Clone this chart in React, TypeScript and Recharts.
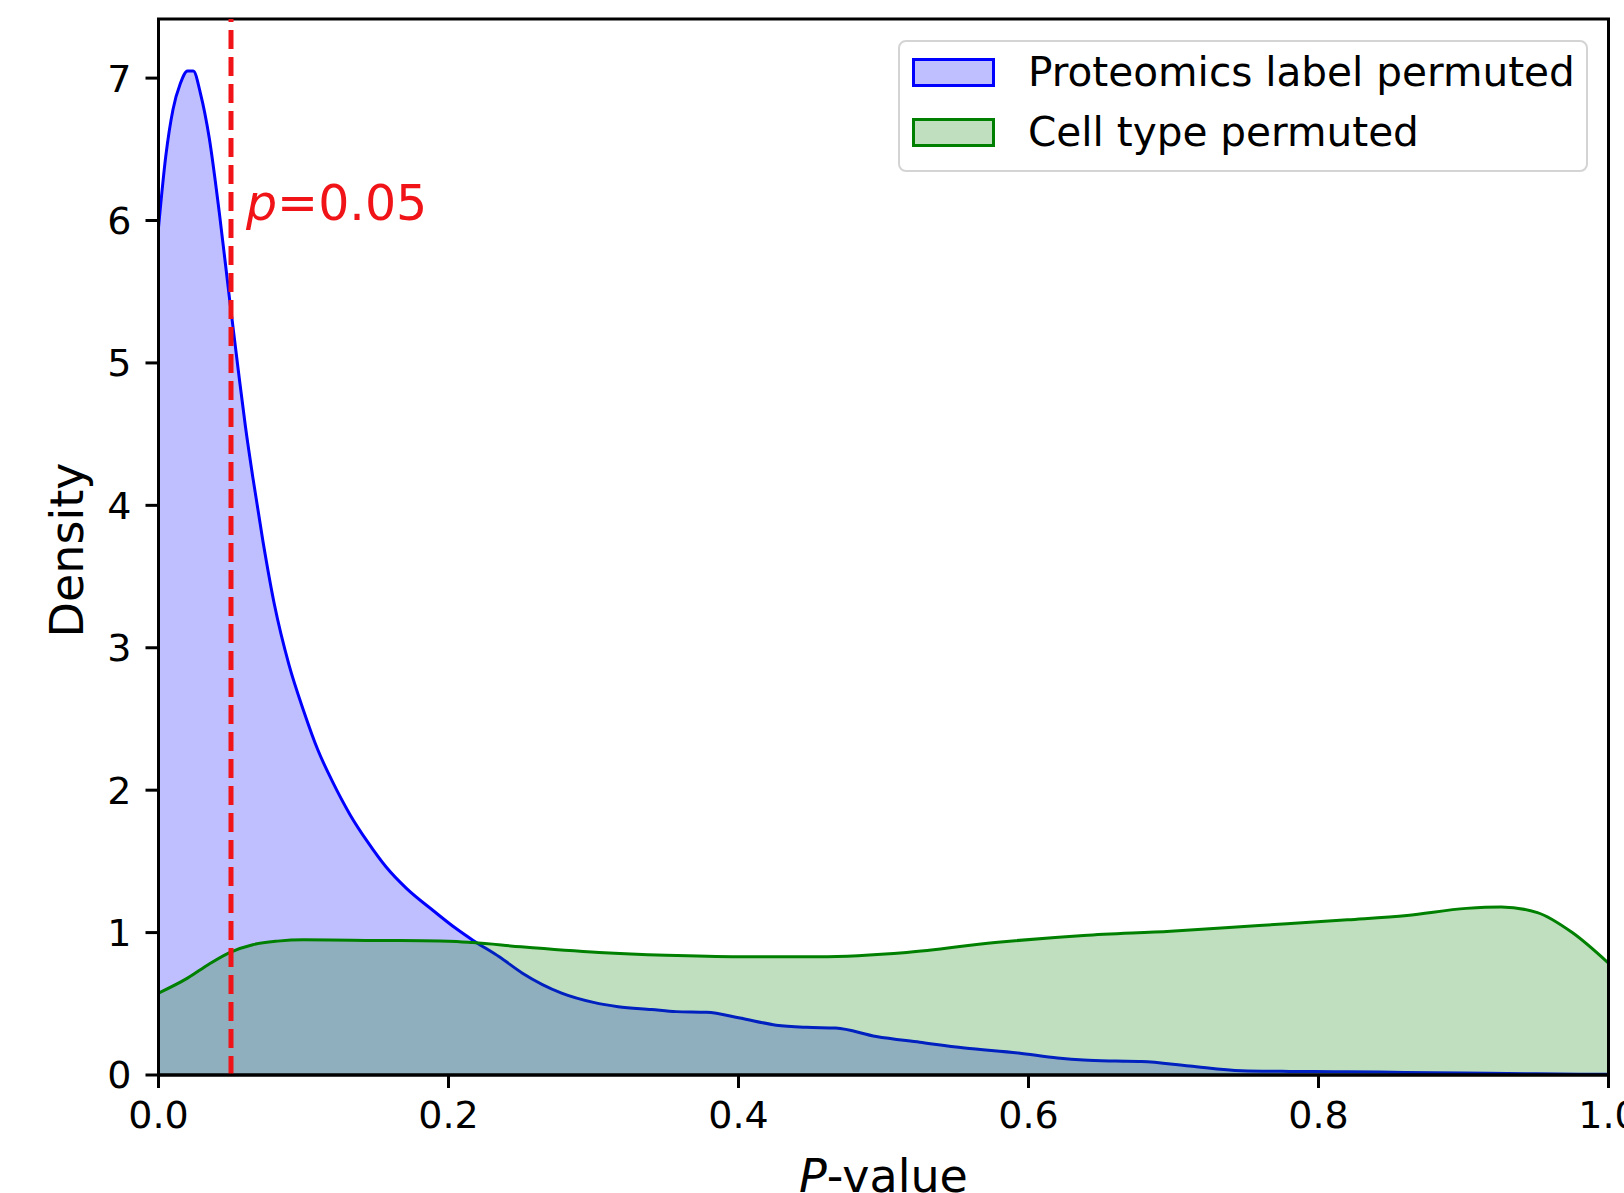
import React from 'react';
import {
  ComposedChart,
  Area,
  XAxis,
  YAxis,
  ReferenceLine,
  ReferenceArea,
  Legend,
} from 'recharts';

// ---- data ----
const blueX = [
  0, 0.005, 0.01, 0.015, 0.02, 0.024, 0.029, 0.035, 0.042, 0.049, 0.055, 0.06, 0.065,
  0.072, 0.08, 0.09, 0.1, 0.11, 0.12, 0.132, 0.144, 0.157, 0.171, 0.19, 0.205, 0.217,
  0.235, 0.251, 0.278, 0.3, 0.317, 0.34, 0.357, 0.378, 0.401, 0.426, 0.447, 0.467,
  0.495, 0.525, 0.556, 0.593, 0.62, 0.638, 0.66, 0.678, 0.711, 0.747, 0.78, 0.82,
  0.86, 0.9, 0.95, 1.0,
];
const blueY = [
  5.95, 6.45, 6.78, 6.96, 7.05, 7.05, 6.89, 6.58, 6.05, 5.45, 4.95, 4.55, 4.2, 3.75,
  3.3, 2.88, 2.56, 2.28, 2.06, 1.83, 1.64, 1.46, 1.31, 1.15, 1.03, 0.945, 0.83, 0.715,
  0.575, 0.51, 0.48, 0.46, 0.445, 0.44, 0.4, 0.35, 0.335, 0.33, 0.27, 0.23, 0.19,
  0.155, 0.12, 0.105, 0.098, 0.095, 0.063, 0.03, 0.025, 0.023, 0.018, 0.014, 0.008,
  0.005,
];
const greenX = [
  0, 0.02, 0.035, 0.049, 0.065, 0.082, 0.1, 0.15, 0.2, 0.217, 0.25, 0.304, 0.35,
  0.401, 0.455, 0.516, 0.577, 0.638, 0.698, 0.759, 0.82, 0.861, 0.902, 0.926, 0.951,
  0.975, 1.0,
];
const greenY = [
  0.575, 0.68, 0.78, 0.86, 0.915, 0.94, 0.95, 0.945, 0.94, 0.93, 0.9, 0.86, 0.84,
  0.83, 0.83, 0.86, 0.93, 0.98, 1.01, 1.05, 1.09, 1.12, 1.17, 1.18, 1.14, 1.0, 0.785,
];
const xTicks = [0, 0.2, 0.4, 0.6, 0.8, 1.0];
const yTicks = [0, 1, 2, 3, 4, 5, 6, 7];
const yMax = 7.415;
const thresholdP = 0.05;
const seriesOrder = ['blue', 'green'];
const seriesNames: Record<string, string> = {
  blue: 'Proteomics label permuted',
  green: 'Cell type permuted',
};

// ---- styles ----
const FONT = '"DejaVu Sans", sans-serif';
const seriesStyle: Record<string, { stroke: string; fill: string }> = {
  blue: { stroke: '#0000ff', fill: '#0000ff' },
  green: { stroke: '#008000', fill: '#008000' },
};
const RED = '#f01418';

const W = 1624;
const H = 1193;
const PLOT_LEFT = 158.5;
const PLOT_RIGHT = 1608.5;
const PLOT_TOP = 19;
const PLOT_BOTTOM = 1075;

function buildData() {
  const xs = Array.from(new Set([...blueX, ...greenX])).sort((a, b) => a - b);
  return xs.map((x) => {
    const bi = blueX.indexOf(x);
    const gi = greenX.indexOf(x);
    return {
      x,
      blue: bi >= 0 ? blueY[bi] : null,
      green: gi >= 0 ? greenY[gi] : null,
    };
  });
}

const data = buildData();

const LegendBox = (props: any) => {
  const payload = [...(props.payload || [])].sort(
    (a: any, b: any) => seriesOrder.indexOf(a.dataKey) - seriesOrder.indexOf(b.dataKey)
  );
  return (
    <div
      style={{
        width: 690,
        height: 132,
        boxSizing: 'border-box',
        border: '2px solid #d4d4d4',
        borderRadius: 8,
        background: 'rgba(255,255,255,0.8)',
        position: 'relative',
        fontFamily: FONT,
        fontSize: 40.6,
        color: '#000',
      }}
    >
      {payload.map((entry: any, i: number) => {
        const st = seriesStyle[entry.dataKey] || { stroke: '#000', fill: '#000' };
        return (
          <div
            key={i}
            style={{
              position: 'absolute',
              left: 12,
              top: 16 + i * 60,
              height: 29,
              display: 'flex',
              alignItems: 'center',
              whiteSpace: 'nowrap',
            }}
          >
            <div
              style={{
                width: 83,
                height: 29,
                boxSizing: 'border-box',
                border: `3px solid ${st.stroke}`,
                background: st.fill,
                position: 'relative',
              }}
            >
              <div
                style={{
                  position: 'absolute',
                  inset: 0,
                  background: '#fff',
                  opacity: 0.75,
                }}
              />
            </div>
            <span style={{ marginLeft: 33, lineHeight: '29px' }}>{entry.value}</span>
          </div>
        );
      })}
    </div>
  );
};

const tickStyle = { fill: '#000', fontSize: 38, fontFamily: FONT };

export default function App() {
  return (
    <div
      style={{
        position: 'absolute',
        left: 0,
        top: 0,
        width: W,
        height: H,
        overflow: 'hidden',
        background: '#fff',
      }}
    >
      <ComposedChart
        width={W}
        height={H}
        data={data}
        margin={{ top: PLOT_TOP, right: W - PLOT_RIGHT, bottom: 0, left: 0 }}
      >
        <XAxis
          dataKey="x"
          type="number"
          domain={[0, 1]}
          ticks={xTicks}
          interval={0}
          allowDataOverflow
          height={H - PLOT_BOTTOM}
          tickFormatter={(v: number) => v.toFixed(1)}
          tick={tickStyle}
          tickSize={13}
          tickMargin={13}
          axisLine={{ stroke: '#000', strokeWidth: 3 }}
          tickLine={{ stroke: '#000', strokeWidth: 3 }}
          label={{
            content: () => (
              <text
                x={(PLOT_LEFT + PLOT_RIGHT) / 2}
                y={1192}
                textAnchor="middle"
                fontFamily={FONT}
                fontSize={46}
                fill="#000"
              >
                <tspan fontStyle="italic">P</tspan>
                <tspan>-value</tspan>
              </text>
            ),
          }}
        />
        <YAxis
          type="number"
          domain={[0, yMax]}
          ticks={yTicks}
          interval={0}
          allowDataOverflow
          width={PLOT_LEFT}
          tick={tickStyle}
          tickSize={13}
          tickMargin={14}
          axisLine={{ stroke: '#000', strokeWidth: 3 }}
          tickLine={{ stroke: '#000', strokeWidth: 3 }}
          label={{
            content: () => {
              const cx = 83;
              const cy = (PLOT_TOP + PLOT_BOTTOM) / 2 + 3;
              return (
                <text
                  x={cx}
                  y={cy}
                  transform={`rotate(-90, ${cx}, ${cy})`}
                  textAnchor="middle"
                  fontFamily={FONT}
                  fontSize={46}
                  fill="#000"
                >
                  Density
                </text>
              );
            },
          }}
        />
        <Area
          dataKey="blue"
          name={seriesNames.blue}
          type="monotone"
          connectNulls
          stroke={seriesStyle.blue.stroke}
          strokeWidth={3}
          fill={seriesStyle.blue.fill}
          fillOpacity={0.25}
          isAnimationActive={false}
          dot={false}
          activeDot={false}
        />
        <Area
          dataKey="green"
          name={seriesNames.green}
          type="monotone"
          connectNulls
          stroke={seriesStyle.green.stroke}
          strokeWidth={3}
          fill={seriesStyle.green.fill}
          fillOpacity={0.25}
          isAnimationActive={false}
          dot={false}
          activeDot={false}
        />
        <ReferenceLine
          x={thresholdP}
          stroke={RED}
          strokeWidth={5}
          strokeDasharray="19 8"
          label={{
            content: () => (
              <text x={246} y={220} fontFamily={FONT} fontSize={49} fill={RED}>
                <tspan fontStyle="italic">p</tspan>
                <tspan>=0.05</tspan>
              </text>
            ),
          }}
        />
        <ReferenceArea
          x1={0}
          x2={1}
          y1={0}
          y2={yMax}
          fill="none"
          fillOpacity={0}
          stroke="#000"
          strokeWidth={3}
          strokeOpacity={1}
        />
        <Legend
          layout="vertical"
          align="center"
          verticalAlign="middle"
          wrapperStyle={{ left: 898, top: 40, width: 690, height: 132 }}
          content={<LegendBox />}
        />
      </ComposedChart>
    </div>
  );
}
